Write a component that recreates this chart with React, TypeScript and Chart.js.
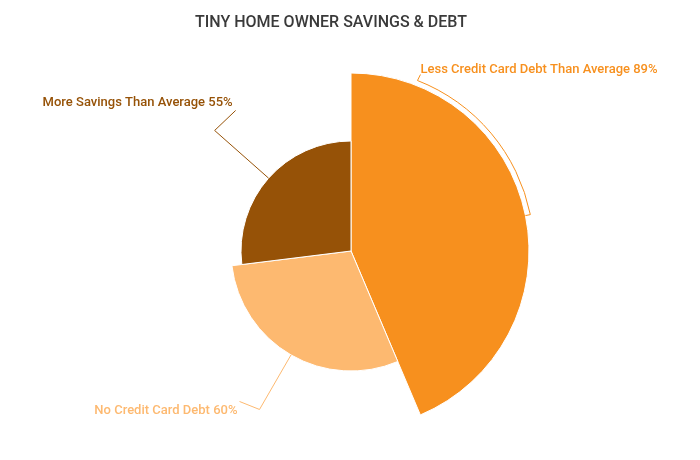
import React, { useEffect, useRef } from "react";
import { Chart, registerables } from "chart.js";

Chart.register(...registerables);

const title = "TINY HOME OWNER SAVINGS & DEBT";
const categories = ["Less Credit Card Debt Than Average", "No Credit Card Debt", "More Savings Than Average"];
const values = [89, 60, 55];
const colors = ["#F7901E", "#FDB970", "#965207"];

const total = values.reduce((a, b) => a + b, 0);
const angles = values.map((v) => (v / total) * 360);

const leaderPlugin = {
  id: "leaders",
  afterDatasetsDraw(chart: any) {
    const ctx = chart.ctx as CanvasRenderingContext2D;
    const meta = chart.getDatasetMeta(0);
    ctx.save();
    ctx.font = "500 13px Roboto";
    ctx.lineWidth = 1;
    meta.data.forEach((arc: any, i: number) => {
      const p = arc.getProps(["x", "y", "startAngle", "endAngle", "outerRadius"], true);
      const mid = (p.startAngle + p.endAngle) / 2;
      const c = Math.cos(mid), s = Math.sin(mid);
      const r = p.outerRadius;
      const ex = p.x + c * r, ey = p.y + s * r;
      const label = `${categories[i]} ${values[i]}%`;
      ctx.strokeStyle = colors[i];
      ctx.fillStyle = colors[i];
      ctx.beginPath();
      if (i === 0) {
        const rr = r + 5;
        const topAng = -Math.PI / 2 + (21.3 * Math.PI) / 180;
        ctx.moveTo(ex, ey);
        ctx.lineTo(p.x + c * rr, p.y + s * rr);
        ctx.arc(p.x, p.y, rr, mid, topAng, true);
        const ax = p.x + Math.cos(topAng) * rr;
        const ay = p.y + Math.sin(topAng) * rr;
        const lx = ax + 3, ly = ay - 6;
        ctx.lineTo(lx, ly);
        ctx.stroke();
        ctx.textAlign = "left";
        ctx.textBaseline = "middle";
        ctx.fillText(label, lx, ly - 5);
      } else {
        const ext = i === 1 ? 63 : 72;
        const bx = p.x + c * (r + ext), by = p.y + s * (r + ext);
        const lx = i === 1 ? bx - 20 : bx + 21;
        const ly = i === 1 ? by - 8 : by - 20;
        ctx.moveTo(ex, ey);
        ctx.lineTo(bx, by);
        ctx.lineTo(lx, ly);
        ctx.stroke();
        ctx.textAlign = "right";
        ctx.textBaseline = "middle";
        if (i === 1) ctx.fillText(label, lx - 2, ly + 9);
        else ctx.fillText(label, lx - 3, ly - 8);
      }
    });
    ctx.fillStyle = "#3a3a3a";
    ctx.font = "500 16px Roboto";
    ctx.textAlign = "center";
    ctx.textBaseline = "middle";
    ctx.fillText(title, 331, 23);
    ctx.restore();
  },
};

export default function App() {
  const ref = useRef<HTMLCanvasElement>(null);
  useEffect(() => {
    if (!ref.current) return;
    const chart = new Chart(ref.current, {
      type: "polarArea",
      data: {
        labels: categories,
        datasets: [
          {
            data: values,
            backgroundColor: colors,
            borderColor: "#ffffff",
            borderWidth: 1,
            angle: angles,
          } as any,
        ],
      },
      options: {
        responsive: false,
        animation: false,
        devicePixelRatio: 1,
        layout: { padding: { left: 173, right: 171, top: 73, bottom: 31 } },
        plugins: { legend: { display: false }, tooltip: { enabled: false }, title: { display: false } },
        scales: {
          r: {
            display: false,
            min: 0,
            max: Math.max(...values),
            startAngle: 0,
          },
        },
      },
      plugins: [leaderPlugin],
    });
    return () => chart.destroy();
  }, []);
  return (
    <div style={{ position: "fixed", left: 0, top: 0, width: 700, height: 460, background: "#fff" }}>
      <canvas ref={ref} width={700} height={460} />
    </div>
  );
}
